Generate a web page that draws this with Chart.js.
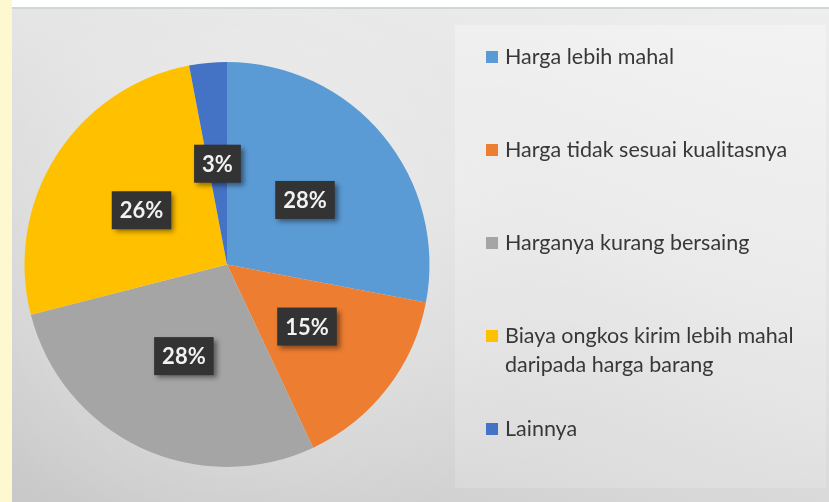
<!DOCTYPE html>
<html>
<head>
<meta charset="utf-8">
<script src="https://cdn.jsdelivr.net/npm/chart.js@4/dist/chart.umd.min.js"></script>
<style>
  html, body { margin: 0; padding: 0; background: #ffffff; }
  #page { position: relative; width: 829px; height: 502px; overflow: hidden; background: #ffffff; font-family: Lato, "Open Sans", sans-serif; }
  #strip { position: absolute; left: 0; top: 0; width: 12px; height: 502px; background: #fdf8cf; }
  #frame { position: absolute; left: 12px; top: 7px; width: 817px; height: 495px;
    border-top: 2px solid #cfd6d9;
    background:
      radial-gradient(ellipse 300px 300px at 225px 265px, rgba(255,255,255,0.35), rgba(255,255,255,0) 100%),
      linear-gradient(200deg, #eeeeee 0%, #e4e4e4 40%, #d4d4d4 75%, #c8c8c8 100%);
  }
  #panel { position: absolute; left: 455px; top: 25px; width: 371px; height: 463px;
    background: linear-gradient(180deg, rgba(255,255,255,0.30), rgba(255,255,255,0.15)); }
  #chartBox { position: absolute; left: 0; top: 0; width: 829px; height: 502px; }
  #legend { position: absolute; left: 486px; top: 42px; margin: 0; padding: 0; list-style: none; }
  #legend li { display: flex; align-items: flex-start; margin-bottom: 64px; color: #383838; font-size: 21.5px; line-height: 29px; white-space: nowrap; }
  #legend li:nth-child(4) { margin-bottom: 35px; }
  #legend li .sw { width: 12px; height: 12px; margin-top: 9px; margin-right: 7px; flex: none; }
</style>
</head>
<body>
<div id="page">
  <div id="strip"></div>
  <div id="frame"></div>
  <div id="panel"></div>
  <div id="chartBox"><canvas id="c"></canvas></div>
  <ul id="legend"></ul>
</div>
<script>
const categories = [
  "Harga lebih mahal",
  "Harga tidak sesuai kualitasnya",
  "Harganya kurang bersaing",
  ["Biaya ongkos kirim lebih mahal", "daripada harga barang"],
  "Lainnya"
];
const percentages = [28, 15, 28, 26, 3];
const sliceColors = ["#5B9BD5", "#ED7D31", "#A5A5A5", "#FFC000", "#4472C4"];

const labelBoxes = {
  id: "labelBoxes",
  afterDatasetsDraw(chart) {
    const ctx = chart.ctx;
    const meta = chart.getDatasetMeta(0);
    const data = chart.data.datasets[0].data;
    ctx.save();
    ctx.font = "bold 22px Lato, 'Open Sans', sans-serif";
    ctx.textAlign = "center";
    ctx.textBaseline = "middle";
    meta.data.forEach((arc, i) => {
      const p = arc.tooltipPosition();
      const txt = data[i] + "%";
      const w = ctx.measureText(txt).width + 16;
      const h = 38;
      ctx.save();
      ctx.shadowColor = "rgba(0,0,0,0.45)";
      ctx.shadowBlur = 5;
      ctx.shadowOffsetX = 3;
      ctx.shadowOffsetY = 3;
      ctx.fillStyle = "#333333";
      ctx.fillRect(p.x - w / 2, p.y - h / 2, w, h);
      ctx.restore();
      ctx.fillStyle = "#f2f2f2";
      ctx.fillText(txt, p.x, p.y + 1);
    });
    ctx.restore();
  }
};

new Chart(document.getElementById("c"), {
  type: "pie",
  data: {
    labels: categories,
    datasets: [{
      data: percentages,
      backgroundColor: sliceColors,
      borderWidth: 0
    }]
  },
  options: {
    responsive: true,
    maintainAspectRatio: false,
    animation: false,
    layout: { padding: { left: 24, right: 399, top: 62, bottom: 35 } },
    plugins: {
      legend: { display: false },
      tooltip: { enabled: false }
    }
  },
  plugins: [labelBoxes]
});

const legend = document.getElementById("legend");
categories.forEach((lab, i) => {
  const li = document.createElement("li");
  const sw = document.createElement("span");
  sw.className = "sw";
  sw.style.background = sliceColors[i];
  const tx = document.createElement("span");
  const lines = Array.isArray(lab) ? lab : [lab];
  lines.forEach((ln, k) => {
    if (k > 0) tx.appendChild(document.createElement("br"));
    tx.appendChild(document.createTextNode(ln));
  });
  li.appendChild(sw);
  li.appendChild(tx);
  legend.appendChild(li);
});
</script>
</body>
</html>
